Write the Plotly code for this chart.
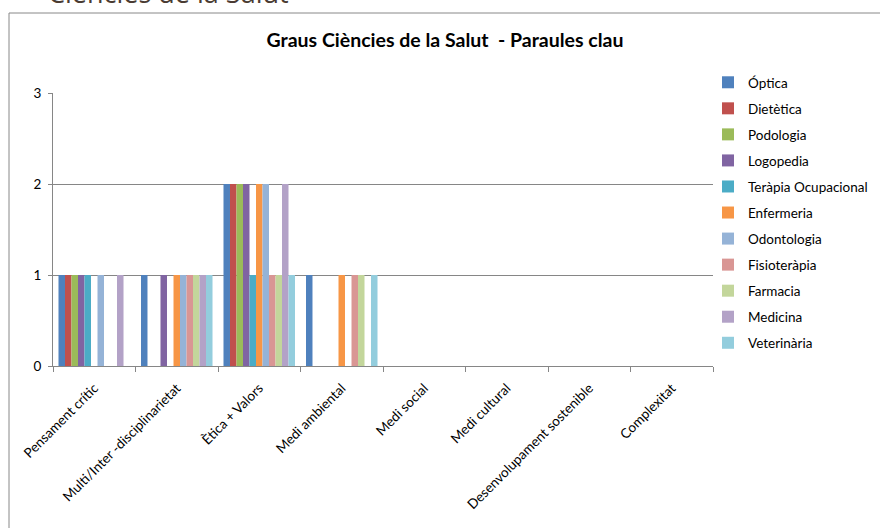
import plotly.graph_objects as go

categories = ["Pensament crític", "Multi/Inter -disciplinarietat", "Ètica + Valors",
              "Medi ambiental", "Medi social", "Medi cultural",
              "Desenvolupament sostenible", "Complexitat"]

optica      = [1, 1, 2, 1, 0, 0, 0, 0]
dietetica   = [1, 0, 2, 0, 0, 0, 0, 0]
podologia   = [1, 0, 2, 0, 0, 0, 0, 0]
logopedia   = [1, 1, 2, 0, 0, 0, 0, 0]
terapia     = [1, 0, 1, 0, 0, 0, 0, 0]
enfermeria  = [0, 1, 2, 1, 0, 0, 0, 0]
odontologia = [1, 1, 2, 0, 0, 0, 0, 0]
fisioterapia = [0, 1, 1, 1, 0, 0, 0, 0]
farmacia    = [0, 1, 1, 1, 0, 0, 0, 0]
medicina    = [1, 1, 2, 0, 0, 0, 0, 0]
veterinaria = [0, 1, 1, 1, 0, 0, 0, 0]

series_names = ["Óptica", "Dietètica", "Podologia", "Logopedia", "Teràpia Ocupacional",
                "Enfermeria", "Odontologia", "Fisioteràpia", "Farmacia", "Medicina",
                "Veterinària"]
series_values = [optica, dietetica, podologia, logopedia, terapia, enfermeria,
                 odontologia, fisioterapia, farmacia, medicina, veterinaria]
colors = ["#4F81BD", "#C0504D", "#9BBB59", "#8064A2", "#4BACC6", "#F79646",
          "#95B3D7", "#D99694", "#C3D69B", "#B3A2C7", "#93CDDD"]

W, H = 880, 528
L, R, T, B = 53, 713, 93, 366  # plot area in pixels

def px(x):
    return (x - L) / (R - L)

def py(y):
    return (B - y) / (B - T)

FONT = "Lato"

fig = go.Figure()
for name, vals, col in zip(series_names, series_values, colors):
    fig.add_trace(go.Bar(x=categories, y=vals, name=name, legendgroup=name,
                         marker=dict(color=col, line=dict(width=0))))

fig.update_layout(
    width=W, height=H,
    margin=dict(l=L, r=W - R, t=T, b=H - B, autoexpand=False),
    paper_bgcolor="white", plot_bgcolor="white",
    barmode="group", bargap=0.133, bargroupgap=0,
    font=dict(family=FONT, size=13.5, color="black"),
    showlegend=True,
    legend=dict(x=px(708), xanchor="left", y=py(67), yanchor="top",
                font=dict(family=FONT, size=13.5, color="black"),
                tracegroupgap=5.5, traceorder="grouped",
                bgcolor="rgba(0,0,0,0)", itemwidth=30),
    xaxis=dict(tickangle=-45, showline=True, linecolor="#868686", linewidth=1,
               ticks="outside", tickson="boundaries", ticklen=5, tickcolor="#868686",
               showgrid=False, tickfont=dict(family=FONT, size=13.5, color="black")),
    yaxis=dict(range=[0, 3], dtick=1, showline=True, linecolor="#868686", linewidth=1,
               showgrid=True, gridcolor="#868686", gridwidth=1, zeroline=False,
               ticks="outside", ticklen=4, tickcolor="#868686",
               tickfont=dict(family=FONT, size=13.5, color="black")),
    title=dict(text="<b>Graus Ciències de la Salut  - Paraules clau</b>",
               x=445 / W, xanchor="center", y=1 - 40 / H, yanchor="middle",
               xref="container", yref="container",
               font=dict(family=FONT, size=19.5, color="black")),
)

try:
    fig.update_layout(legend_maxheight=400)
except Exception:
    fig.update_layout(legend_tracegroupgap=4, legend_font_size=12)

try:
    fig.update_xaxes(ticklabelstandoff=8)
    fig.update_yaxes(ticklabelstandoff=4)
except Exception:
    pass

# chart area border (extends past the visible window)
fig.add_shape(type="rect", xref="paper", yref="paper",
              x0=px(9), x1=px(1200), y0=py(900), y1=py(13),
              line=dict(color="#888888", width=1), fillcolor="rgba(0,0,0,0)", layer="below")

# page heading, cut off at the top
fig.add_annotation(text="Ciències de la Salut", xref="paper", yref="paper",
                   x=px(46), xanchor="left", y=py(13), yanchor="bottom",
                   showarrow=False, font=dict(family="Open Sans", size=27, color="#4a3b32"))

fig.write_html("out.html", config={"displayModeBar": False},
               post_script="document.body.style.margin='0';document.body.style.overflow='hidden';")
